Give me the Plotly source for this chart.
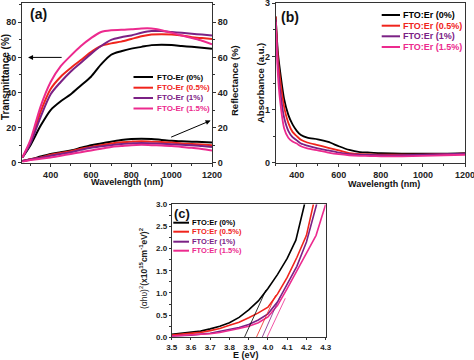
import plotly.graph_objects as go

W, H = 474, 360
FONT = "Arial, 'Liberation Sans', sans-serif"
AX = "#333333"

def px(x):
    return x / W

def py(y):
    return 1 - y / H

# ---------------- data ----------------
labels_a = ["FTO-Er (0%)", "FTO-Er (0.5%)", "FTO-Er (1%)", "FTO-Er (1.5%)"]
labels_bc = ["FTO:Er (0%)", "FTO:Er (0.5%)", "FTO:Er (1%)", "FTO:Er (1.5%)"]
colors = ["#000000", "#f0241c", "#7b2185", "#ec2a8e"]

# (a) transmittance / reflectance vs wavelength
wl_a = [260, 300, 350, 400, 450, 500, 550, 600, 650, 700, 750, 800, 850, 900, 950, 1000, 1050, 1100, 1150, 1200]
trans_0 = [3, 10, 21, 30, 35, 39, 44, 49, 56, 61.5, 63.5, 65, 66, 67, 67.2, 67, 66.5, 66, 65.5, 65]
trans_05 = [3, 12, 29, 42, 49, 54, 58.5, 63, 66.5, 68, 69, 70.5, 72, 73, 73.2, 73, 72.5, 71.5, 71, 70.5]
trans_1 = [3, 11, 26, 39, 46, 52, 57, 62, 66.5, 70, 71.5, 72.5, 74, 75, 75, 74.5, 74, 73.5, 73, 72.5]
trans_15 = [3, 13, 32, 46, 55, 61, 66.5, 71, 74.5, 75.5, 75.7, 76, 76.5, 76.5, 75.5, 74, 72.5, 71, 69.5, 67.5]
refl_0 = [1, 2, 3.5, 5, 6, 7, 8.5, 10, 11, 12, 13, 13.5, 13.7, 13.5, 13, 12.5, 12.2, 12, 11.8, 11.5]
refl_05 = [1, 2, 3, 4.5, 5.5, 6.5, 8, 9, 10, 11, 11.7, 12, 12.2, 12, 11.8, 11.5, 11, 10.7, 10.3, 10]
refl_1 = [1, 1.8, 2.8, 4, 5, 6, 7.3, 8.5, 9.3, 10, 10.7, 11, 11.2, 11, 10.8, 10.5, 10.2, 10, 9.5, 9]
refl_15 = [0.5, 1.5, 2.2, 3, 4, 5, 6, 7, 8, 9, 9.5, 10, 10.2, 10, 9.8, 9.5, 9, 8.5, 7.8, 7]

# (b) absorbance vs wavelength
wl_b = [300, 310, 320, 340, 360, 380, 400, 420, 450, 500, 550, 600, 650, 700, 750, 800, 900, 1000, 1100, 1200]
abs_0 = [2.75, 2.1, 1.75, 1.2, 0.9, 0.72, 0.6, 0.52, 0.47, 0.44, 0.39, 0.31, 0.24, 0.2, 0.19, 0.18, 0.17, 0.17, 0.17, 0.18]
abs_05 = [2.75, 2.0, 1.6, 1.05, 0.75, 0.58, 0.5, 0.43, 0.38, 0.33, 0.28, 0.23, 0.18, 0.16, 0.155, 0.15, 0.15, 0.15, 0.16, 0.17]
abs_1 = [2.7, 1.85, 1.4, 0.85, 0.6, 0.48, 0.42, 0.36, 0.32, 0.27, 0.23, 0.19, 0.16, 0.15, 0.145, 0.14, 0.14, 0.15, 0.16, 0.17]
abs_15 = [2.65, 1.7, 1.2, 0.65, 0.47, 0.4, 0.36, 0.31, 0.27, 0.23, 0.19, 0.16, 0.14, 0.13, 0.125, 0.12, 0.12, 0.13, 0.14, 0.15]

# (c) Tauc plot
e_0 = [3.5, 3.55, 3.6, 3.65, 3.7, 3.75, 3.8, 3.85, 3.9, 3.95, 4.0, 4.05, 4.1, 4.145, 4.19]
tauc_0 = [0.07, 0.09, 0.11, 0.14, 0.19, 0.25, 0.33, 0.45, 0.62, 0.82, 1.1, 1.42, 1.78, 2.19, 3.0]
e_05 = [3.5, 3.6, 3.65, 3.7, 3.75, 3.8, 3.85, 3.9, 3.95, 4.0, 4.05, 4.1, 4.15, 4.2, 4.236]
tauc_05 = [0.05, 0.09, 0.11, 0.15, 0.2, 0.27, 0.34, 0.44, 0.55, 0.68, 0.98, 1.35, 1.8, 2.3, 3.0]
e_1 = [3.5, 3.6, 3.7, 3.75, 3.8, 3.85, 3.9, 3.95, 4.0, 4.05, 4.1, 4.15, 4.2, 4.253]
tauc_1 = [0.03, 0.05, 0.09, 0.13, 0.17, 0.22, 0.29, 0.39, 0.53, 0.8, 1.2, 1.6, 2.15, 3.0]
e_15 = [3.5, 3.6, 3.7, 3.75, 3.8, 3.85, 3.9, 3.95, 4.0, 4.05, 4.1, 4.15, 4.2, 4.25, 4.3]
tauc_15 = [0.03, 0.05, 0.08, 0.11, 0.15, 0.2, 0.25, 0.33, 0.46, 0.72, 1.1, 1.5, 1.9, 2.3, 3.0]
# linear-fit (band-gap) extrapolation lines
fit_e = [[3.878, 3.99], [3.94, 4.04], [3.97, 4.063], [3.995, 4.09]]
fit_v = [[0, 1.07], [0, 0.95], [0, 0.92], [0, 0.88]]

fig = go.Figure()

trans = [trans_0, trans_05, trans_1, trans_15]
refl = [refl_0, refl_05, refl_1, refl_15]
for i in range(4):
    fig.add_trace(go.Scatter(x=wl_a, y=trans[i], mode="lines", line=dict(color=colors[i], width=2, shape="spline", smoothing=0.8),
                             name=labels_a[i], xaxis="x", yaxis="y", showlegend=False))
for i in range(4):
    fig.add_trace(go.Scatter(x=wl_a, y=refl[i], mode="lines", line=dict(color=colors[i], width=2, shape="spline", smoothing=0.8),
                             name=labels_a[i], xaxis="x", yaxis="y2", showlegend=False))

absb = [abs_0, abs_05, abs_1, abs_15]
for i in range(4):
    fig.add_trace(go.Scatter(x=wl_b, y=absb[i], mode="lines", line=dict(color=colors[i], width=1.8, shape="spline", smoothing=0.7),
                             name=labels_bc[i], xaxis="x2", yaxis="y3", showlegend=False))

es = [e_0, e_05, e_1, e_15]
ts = [tauc_0, tauc_05, tauc_1, tauc_15]
for i in range(4):
    fig.add_trace(go.Scatter(x=es[i], y=ts[i], mode="lines", line=dict(color=colors[i], width=1.6),
                             name=labels_bc[i], xaxis="x3", yaxis="y4", showlegend=False))
for i in range(4):
    fig.add_trace(go.Scatter(x=fit_e[i], y=fit_v[i], mode="lines", line=dict(color=colors[i], width=0.8),
                             xaxis="x3", yaxis="y4", showlegend=False))

tickf = dict(family=FONT, size=9, color="#222", weight="bold")
tickf_c = dict(family=FONT, size=8, color="#222", weight="bold")
common = dict(showline=True, linecolor=AX, linewidth=1, ticks="outside", ticklen=3, tickcolor=AX,
              tickfont=tickf, showgrid=False, zeroline=False, automargin=False, ticklabeloverflow="allow")
common_c = dict(common, tickfont=tickf_c, ticklen=2)

# domains (pixels)
a_x = [px(22), px(212)]
a_y = [py(162.7), py(3)]
b_x = [px(275.7), px(465)]
b_y = [py(162.7), py(3.3)]
c_x = [px(171.7), px(325.7)]
c_y = [py(337.3), py(204.3)]

fig.update_layout(
    width=W, height=H, margin=dict(l=0, r=0, t=0, b=0, autoexpand=False),
    paper_bgcolor="white", plot_bgcolor="white", showlegend=False,
    font=dict(family=FONT),
    xaxis=dict(domain=a_x, anchor="y", range=[258, 1200], tick0=400, dtick=200, mirror=True,
               minor=dict(dtick=100, ticks="outside", ticklen=2, tickcolor=AX), **common),
    yaxis=dict(domain=a_y, anchor="x", range=[0, 91], tick0=0, dtick=20,
               minor=dict(dtick=10, ticks="outside", ticklen=2, tickcolor=AX), **common),
    yaxis2=dict(overlaying="y", anchor="x", side="right", range=[0, 91], tick0=0, dtick=20,
                minor=dict(dtick=10, ticks="outside", ticklen=2, tickcolor=AX), **common),
    xaxis2=dict(domain=b_x, anchor="y3", range=[300, 1200], tick0=400, dtick=200, mirror=True,
                minor=dict(dtick=100, ticks="outside", ticklen=2, tickcolor=AX), **common),
    yaxis3=dict(domain=b_y, anchor="x2", range=[0, 3], tick0=0, dtick=1, mirror=True,
                minor=dict(dtick=0.5, ticks="outside", ticklen=2, tickcolor=AX), **common),
    xaxis3=dict(domain=c_x, anchor="y4", range=[3.5, 4.3], tick0=3.5, dtick=0.1, tickformat=".1f", mirror=True,
                **common_c),
    yaxis4=dict(domain=c_y, anchor="x3", range=[0, 3], tick0=0, dtick=0.5, tickformat=".1f", mirror=True,
                minor=dict(dtick=0.25, ticks="outside", ticklen=1.5, tickcolor=AX), **common_c),
)

ann = []
def text(x, y, s, size=9, angle=0, color="#111", xanchor="center"):
    ann.append(dict(x=px(x), y=py(y), xref="paper", yref="paper", text=s, showarrow=False,
                    textangle=angle, xanchor=xanchor, yanchor="middle",
                    font=dict(family=FONT, size=size, color=color)))

# panel labels
text(38, 14, "<b>(a)</b>", size=14)
text(290, 17, "<b>(b)</b>", size=14)
text(181.5, 213.5, "<b>(c)</b>", size=13)

# axis titles
text(5, 77, "<b>Transmittance (%)</b>", size=10, angle=-90)
text(235, 81, "<b>Reflectance (%)</b>", size=9.5, angle=-90)
text(260, 83, "<b>Absorbance (a.u.)</b>", size=9.5, angle=-90)
text(127, 182, "<b>Wavelength (nm)</b>", size=9)
text(384, 183.5, "<b>Wavelength (nm)</b>", size=9)
text(246, 354.5, "<b>E (eV)</b>", size=9)
text(143, 268, "(αhυ)<sup>2</sup><b>(x10<sup>15</sup>cm<sup>-1</sup>eV)<sup>2</sup></b>", size=8.5, angle=-90, color="#222")

# legends (manual, compact like the original)
shapes = []
def legend(x0, x1, xt, rows, labels, size):
    for i in range(4):
        shapes.append(dict(type="line", xref="paper", yref="paper", x0=px(x0), x1=px(x1),
                           y0=py(rows[i]), y1=py(rows[i]), line=dict(color=colors[i], width=2)))
        text(xt, rows[i], "<b>" + labels[i] + "</b>", size=size, color=colors[i], xanchor="left")

legend(133.5, 153, 154.5, [77, 87.7, 98, 108.5], labels_a, 8)
legend(381.7, 400, 401, [15, 25.7, 36.3, 47], labels_bc, 9)
legend(173.3, 189, 189.5, [222.7, 231.7, 241.7, 250.7], labels_bc, 7.5)

# arrows in (a)
ann.append(dict(x=288, y=60, ax=462, ay=60, xref="x", yref="y", axref="x", ayref="y",
                showarrow=True, arrowhead=2, arrowsize=1, arrowwidth=1, arrowcolor="#000", text=""))
ann.append(dict(x=1193, y=24, ax=990, ay=14.2, xref="x", yref="y", axref="x", ayref="y",
                showarrow=True, arrowhead=2, arrowsize=1, arrowwidth=1, arrowcolor="#000", text=""))

fig.update_layout(annotations=ann, shapes=shapes)
fig.write_html("out.html", config={"displayModeBar": False},
               post_script="document.body.style.margin='0px';")
